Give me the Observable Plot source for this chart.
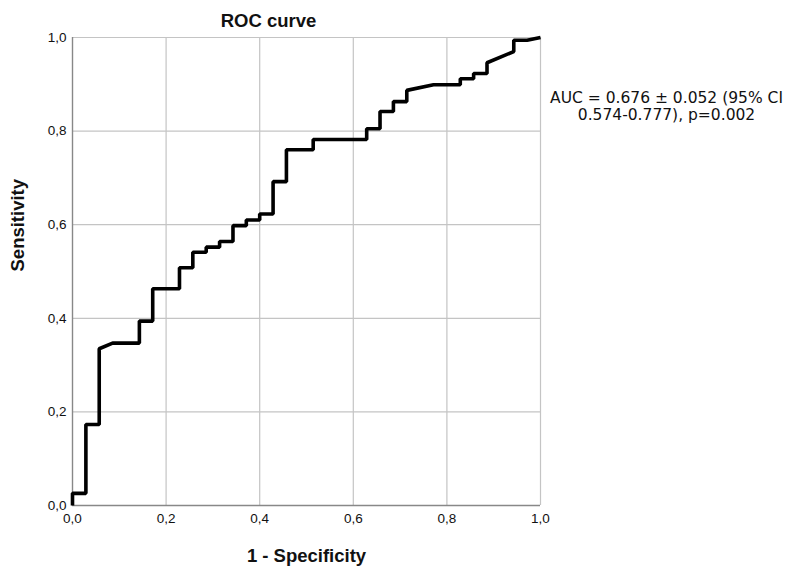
<!DOCTYPE html>
<html>
<head>
<meta charset="utf-8">
<script src="https://cdn.jsdelivr.net/npm/d3@7"></script>
<script src="https://cdn.jsdelivr.net/npm/@observablehq/plot@0.6"></script>
<style>
  body { margin: 0; background: #fff; }
  #chart svg { display: block; }
  #chart g[aria-label="x-axis tick label"], #chart g[aria-label="y-axis tick label"] { font-size: 13.5px; }
</style>
</head>
<body>
<div id="chart"></div>
<script>
// ROC curve vertices (1 - specificity, sensitivity)
const fpr = [0, 0, 0.0286, 0.0286, 0.0571, 0.0571, 0.0857, 0.1429, 0.1429, 0.1714,
  0.1714, 0.2286, 0.2286, 0.2571, 0.2571, 0.2857, 0.2857, 0.3143, 0.3143, 0.3429,
  0.3429, 0.3714, 0.3714, 0.4, 0.4, 0.4286, 0.4286, 0.4571, 0.4571, 0.5143,
  0.5143, 0.6286, 0.6286, 0.6571, 0.6571, 0.6857, 0.6857, 0.7143, 0.7143, 0.7714,
  0.8286, 0.8286, 0.8571, 0.8571, 0.8857, 0.8857, 0.9429, 0.9429, 0.9714, 1];
const tpr = [0, 0.026, 0.026, 0.173, 0.173, 0.335, 0.347, 0.347, 0.394, 0.394,
  0.463, 0.463, 0.508, 0.508, 0.541, 0.541, 0.552, 0.552, 0.564, 0.564,
  0.598, 0.598, 0.610, 0.610, 0.623, 0.623, 0.692, 0.692, 0.760, 0.760,
  0.782, 0.782, 0.805, 0.805, 0.842, 0.842, 0.863, 0.863, 0.887, 0.899,
  0.899, 0.912, 0.912, 0.923, 0.923, 0.946, 0.970, 0.994, 0.994, 1];
const xTicks = [0, 0.2, 0.4, 0.6, 0.8, 1.0];
const yTicks = [0, 0.2, 0.4, 0.6, 0.8, 1.0];
const titleText = "ROC curve";
const xLabel = "1 - Specificity";
const yLabel = "Sensitivity";
const aucText = "AUC = 0.676 \u00b1 0.052 (95% CI\n0.574-0.777), p=0.002";

const pts = fpr.map((x, i) => ({x, y: tpr[i]}));
const fmt = d => d.toFixed(1).replace(".", ",");
const font = "Liberation Sans, Arial, sans-serif";

const chart = Plot.plot({
  width: 788,
  height: 567,
  marginLeft: 72,
  marginRight: 248,
  marginTop: 37,
  marginBottom: 62,
  style: {fontFamily: font, fontSize: "13.5px", background: "#fff", overflow: "visible"},
  x: {domain: [0, 1]},
  y: {domain: [0, 1]},
  marks: [
    Plot.ruleX(xTicks.slice(1), {stroke: "#c4c4c4", strokeWidth: 1.2, strokeOpacity: 1}),
    Plot.ruleY(yTicks.slice(1), {stroke: "#c4c4c4", strokeWidth: 1.2, strokeOpacity: 1}),
    Plot.ruleX([0], {stroke: "#888", strokeWidth: 1.4}),
    Plot.ruleY([0], {stroke: "#888", strokeWidth: 1.4}),
    Plot.axisX({ticks: xTicks, tickFormat: fmt, tickSize: 0, tickPadding: 8,
      fontSize: 13.5, fill: "#111", label: null}),
    Plot.axisY({ticks: yTicks, tickFormat: fmt, tickSize: 0, tickPadding: 6,
      fontSize: 13.5, fill: "#111", label: null}),
    Plot.line(pts, {x: "x", y: "y", stroke: "#000", strokeWidth: 3.6,
      strokeLinejoin: "miter", strokeLinecap: "butt"}),
    Plot.text([titleText], {frameAnchor: "top", dx: -38, dy: -24, fontSize: 18.5,
      fontWeight: "bold", fill: "#111"}),
    Plot.text([xLabel], {frameAnchor: "bottom", dy: 56, fontSize: 18.5,
      fontWeight: "bold", fill: "#111"}),
    Plot.text([yLabel], {frameAnchor: "left", dx: -54, dy: 0, rotate: -90, fontSize: 18.5,
      fontWeight: "bold", fill: "#111"}),
    Plot.text([aucText], {frameAnchor: "top-right", dx: 126, dy: 53, textAnchor: "middle",
      lineHeight: 1.1, fontSize: 15.5, fontFamily: "DejaVu Sans, sans-serif", fill: "#111"})
  ]
});
document.getElementById("chart").appendChild(chart);
</script>
</body>
</html>
